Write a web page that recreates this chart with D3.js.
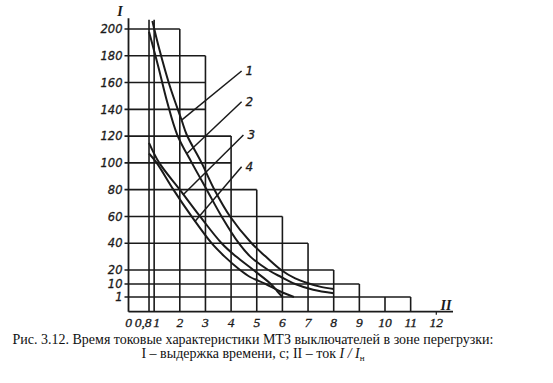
<!DOCTYPE html>
<html><head><meta charset="utf-8">
<script src="https://cdn.jsdelivr.net/npm/d3@7"></script>
<style>body{margin:0;background:#fff}svg{display:block}</style>
</head><body>
<script>
// ---- data ----
const xTickValues = [0, 0.8, 1, 2, 3, 4, 5, 6, 7, 8, 9, 10, 11, 12];
const xTickLabels = ["0", "0,8", "1", "2", "3", "4", "5", "6", "7", "8", "9", "10", "11", "12"];
const yTickValues = [1, 10, 20, 40, 60, 80, 100, 120, 140, 160, 180, 200];
const yTickLabels = ["1", "10", "20", "40", "60", "80", "100", "120", "140", "160", "180", "200"];
// staircase grid: horizontal line level -> right end (x), vertical line x -> top level
const gridH = [[1, 11], [10, 9], [20, 8], [40, 7], [60, 6], [80, 5], [100, 4], [120, 4], [140, 3], [160, 3], [180, 3], [200, 2]];
const gridV = [[0.8, 207], [1, 207], [2, 200], [3, 180], [4, 120], [5, 80], [6, 60], [7, 40], [8, 20], [9, 10], [10, 1], [11, 1]];
const curve1 = [[0.93, 206], [1.2, 185], [1.6, 158], [2.07, 132], [2.27, 121], [2.85, 100], [3.35, 80], [3.96, 60], [4.8, 40], [5.35, 30], [5.95, 20], [6.5, 14], [7, 10.5], [7.5, 8], [8, 6.6]];
const curve2 = [[0.8, 198], [1.16, 172], [1.5, 146], [1.9, 121], [2.47, 100], [3.05, 80], [3.63, 60], [4.3, 40], [4.75, 30], [5.45, 20], [5.95, 15], [6.5, 10], [7.2, 6], [8, 3.6]];
const curve3 = [[0.8, 115], [1.2, 100], [2.0, 80], [2.79, 60], [3.63, 40], [4.2, 30], [4.87, 20], [5.55, 10], [5.8, 5], [6.0, 1]];
const curve4 = [[0.8, 107], [1.1, 100], [1.75, 80], [2.46, 60], [3.24, 40], [3.75, 30], [4.35, 20], [4.74, 15], [5.35, 10], [5.9, 5], [6.45, 1]];
const curves = [curve1, curve2, curve3, curve4];
const curveLabels = ["1", "2", "3", "4"];
// leader lines: label end (x, y data) -> point on the curve (x, y data)
const leaderFrom = [[4.41, 168.6], [4.41, 145.7], [4.48, 120.8], [4.41, 97.1]];
const leaderTo = [[2.07, 132], [2.28, 107], [2.12, 76], [2.58, 56]];
const captionLine1 = "Рис. 3.12. Время токовые характеристики МТЗ выключателей в зоне перегрузки:";
const captionLine2 = "I – выдержка времени, с; II – ток ";

const W = 553, H = 383;
const svg = d3.select("body").append("svg").attr("width", W).attr("height", H);
const x = d3.scaleLinear().domain([0, 12]).range([128.5, 436.3]);
const y = d3.scaleLinear().domain([0, 1, 10, 20, 200]).range([311.7, 297, 284, 270, 29]);
const ink = "#1a1a1a";

const g = svg.append("g");
// grid
g.selectAll("line.h").data(gridH).enter().append("line")
  .attr("x1", x(0) - 4).attr("x2", d => x(d[1]))
  .attr("y1", d => y(d[0])).attr("y2", d => y(d[0]))
  .attr("stroke", ink).attr("stroke-width", 1.6);
g.selectAll("line.v").data(gridV).enter().append("line")
  .attr("x1", d => x(d[0])).attr("x2", d => x(d[0]))
  .attr("y1", y(0)).attr("y2", d => y(d[1]))
  .attr("stroke", ink).attr("stroke-width", 1.6);
// axes
g.append("line").attr("x1", x(0)).attr("x2", x(0)).attr("y1", y(0)).attr("y2", y(208))
  .attr("stroke", ink).attr("stroke-width", 1.8);
g.append("line").attr("x1", x(0)).attr("x2", 453).attr("y1", y(0)).attr("y2", y(0))
  .attr("stroke", ink).attr("stroke-width", 1.8);
g.append("line").attr("x1", x(12)).attr("x2", x(12)).attr("y1", y(0)).attr("y2", y(0) + 3)
  .attr("stroke", ink).attr("stroke-width", 1.2);

// curves
const line = d3.line().x(d => x(d[0])).y(d => y(d[1])).curve(d3.curveCatmullRom.alpha(0.5));
g.selectAll("path.c").data(curves).enter().append("path")
  .attr("d", line).attr("fill", "none").attr("stroke", ink).attr("stroke-width", 2);

// leaders
g.selectAll("line.l").data(leaderFrom).enter().append("line")
  .attr("x1", d => x(d[0])).attr("y1", d => y(d[1]))
  .attr("x2", (d, i) => x(leaderTo[i][0])).attr("y2", (d, i) => y(leaderTo[i][1]))
  .attr("stroke", ink).attr("stroke-width", 1.5);
g.selectAll("text.cl").data(curveLabels).enter().append("text")
  .attr("x", (d, i) => x(leaderFrom[i][0]) + 4).attr("y", (d, i) => y(leaderFrom[i][1]) + 4)
  .attr("font-family", "DejaVu Sans").attr("font-style", "italic").attr("font-size", 12)
  .attr("fill", ink).attr("stroke", ink).attr("stroke-width", 0.3).text(d => d);

// y tick labels
g.selectAll("text.yt").data(yTickValues).enter().append("text")
  .attr("x", x(0) - 6).attr("y", d => y(d) + 4.2)
  .attr("text-anchor", "end")
  .attr("font-family", "DejaVu Sans").attr("font-style", "italic").attr("font-size", 11.5)
  .attr("fill", ink).attr("stroke", ink).attr("stroke-width", 0.3)
  .text((d, i) => yTickLabels[i]);
// x tick labels
g.selectAll("text.xt").data(xTickValues).enter().append("text")
  .attr("x", d => d === 0.8 ? x(d) + 2.5 : (d === 1 ? x(d) + 2.5 : x(d)))
  .attr("y", 326.5)
  .attr("text-anchor", d => d === 0.8 ? "end" : "middle")
  .attr("font-family", "Liberation Sans Narrow").attr("font-style", "italic").attr("font-size", 13.5)
  .attr("fill", ink).attr("stroke", ink).attr("stroke-width", 0.3)
  .text((d, i) => xTickLabels[i]);
// axis names
g.append("text").attr("x", 120).attr("y", 16).attr("text-anchor", "middle")
  .attr("font-family", "Liberation Serif").attr("font-style", "italic").attr("font-weight", "bold")
  .attr("font-size", 14).attr("fill", ink).text("I");
g.append("text").attr("x", 446).attr("y", 310).attr("text-anchor", "middle")
  .attr("font-family", "Liberation Serif").attr("font-style", "italic").attr("font-weight", "bold")
  .attr("font-size", 14).attr("fill", ink).text("II");

// caption
svg.append("text").attr("x", 253).attr("y", 344).attr("text-anchor", "middle")
  .attr("font-family", "Liberation Serif").attr("font-size", 14).attr("fill", "#111")
  .text(captionLine1);
const c2 = svg.append("text").attr("x", 253).attr("y", 358).attr("text-anchor", "middle")
  .attr("font-family", "Liberation Serif").attr("font-size", 14).attr("fill", "#111");
c2.append("tspan").text(captionLine2);
c2.append("tspan").attr("font-style", "italic").text("I / I");
c2.append("tspan").attr("font-size", 9).attr("dy", 3).text("н");
</script>
</body></html>
